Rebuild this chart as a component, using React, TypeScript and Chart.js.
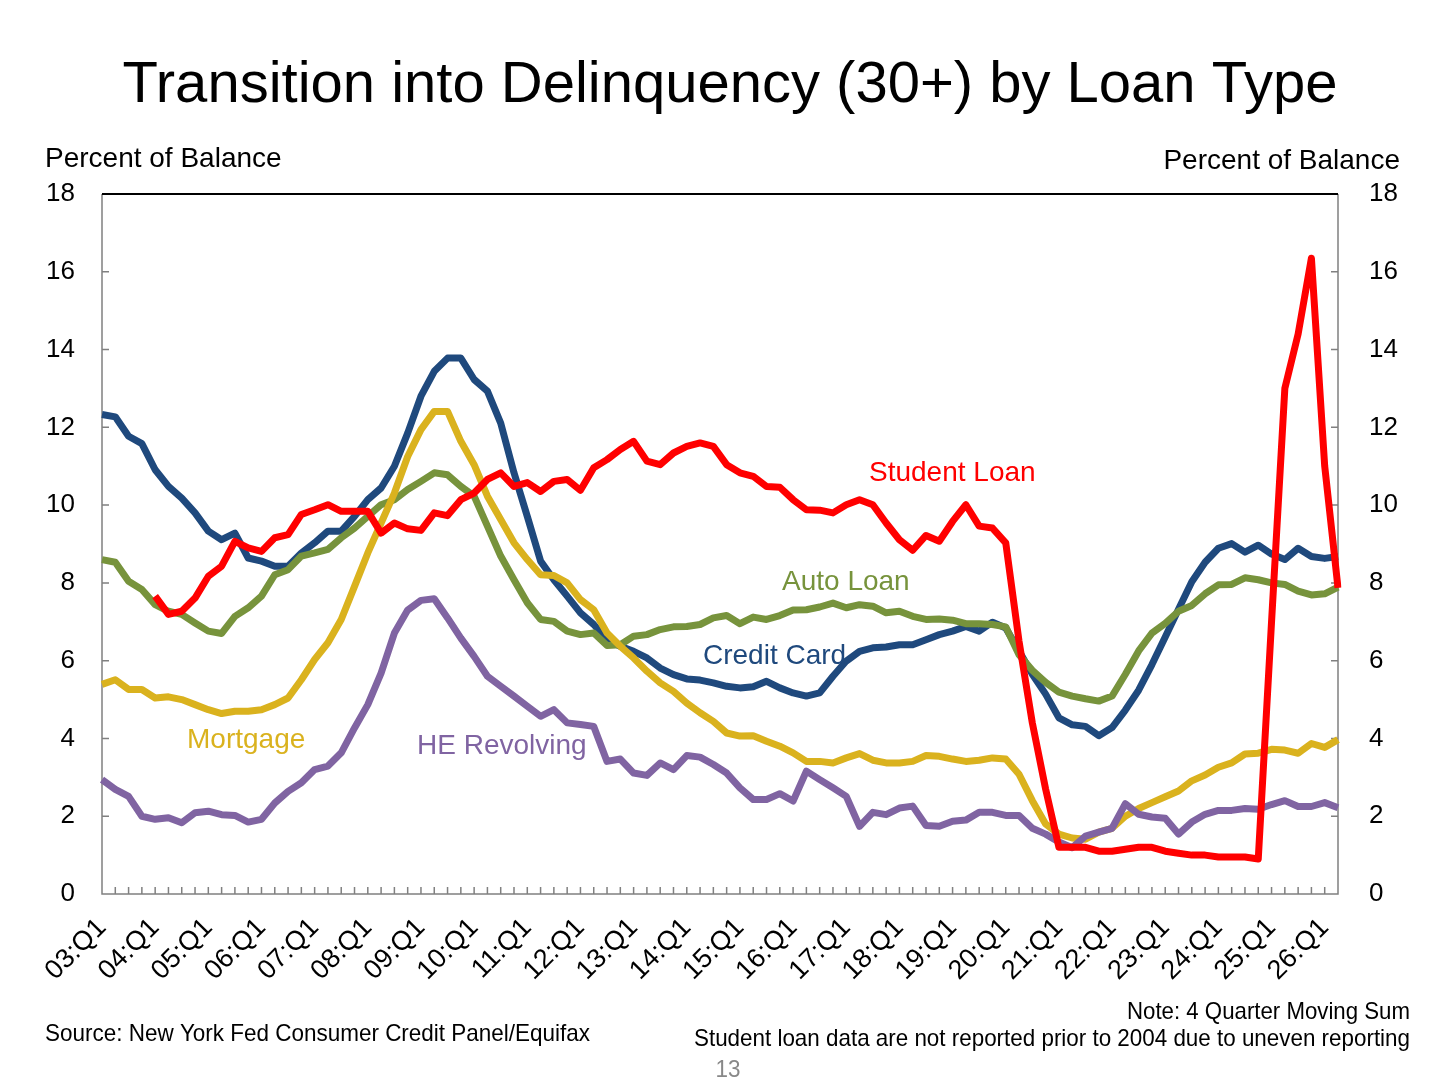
import { useEffect, useRef } from 'react';
import { Chart, registerables } from 'chart.js';

Chart.register(...registerables);

const FONT = '"Liberation Sans", Arial, sans-serif';

// quarters 03:Q1 .. 26:Q2
const quarters: string[] = [];
for (let y = 3; y <= 26; y++) {
  for (let q = 1; q <= 4; q++) quarters.push(`${String(y).padStart(2, '0')}:Q${q}`);
}
quarters.length = 94;

const yTicks = [0, 2, 4, 6, 8, 10, 12, 14, 16, 18];

const creditCard = [
  12.33, 12.27, 11.77, 11.58, 10.91, 10.48, 10.18, 9.8, 9.33, 9.11,
  9.28, 8.64, 8.56, 8.43, 8.43, 8.77, 9.03, 9.33, 9.33, 9.71,
  10.14, 10.44, 11.0, 11.85, 12.8, 13.44, 13.78, 13.78, 13.23, 12.93,
  12.11, 10.83, 9.71, 8.56, 8.08, 7.66, 7.23, 6.93, 6.54, 6.37,
  6.24, 6.07, 5.81, 5.64, 5.53, 5.5, 5.43, 5.34, 5.3, 5.33,
  5.47, 5.3, 5.17, 5.09, 5.17, 5.6, 5.99, 6.24, 6.33, 6.35,
  6.41, 6.41, 6.54, 6.67, 6.76, 6.88, 6.76, 6.99, 6.84, 6.25,
  5.65, 5.14, 4.53, 4.35, 4.31, 4.07, 4.28, 4.73, 5.24, 5.9,
  6.61, 7.32, 8.03, 8.53, 8.89, 9.01, 8.79, 8.97, 8.74, 8.6,
  8.89, 8.68, 8.63, 8.68,
];

const autoLoan = [
  8.6, 8.53, 8.04, 7.83, 7.44, 7.27, 7.19, 6.97, 6.76, 6.7,
  7.14, 7.36, 7.66, 8.21, 8.34, 8.69, 8.77, 8.86, 9.16, 9.41,
  9.71, 10.01, 10.14, 10.4, 10.61, 10.83, 10.78, 10.48, 10.23, 9.46,
  8.69, 8.08, 7.49, 7.06, 7.01, 6.76, 6.67, 6.71, 6.39, 6.41,
  6.63, 6.67, 6.8, 6.87, 6.88, 6.93, 7.1, 7.16, 6.95, 7.12,
  7.06, 7.16, 7.3, 7.31, 7.38, 7.48, 7.36, 7.44, 7.4, 7.23,
  7.27, 7.14, 7.06, 7.07, 7.04, 6.95, 6.95, 6.93, 6.87, 6.15,
  5.75, 5.44, 5.19, 5.09, 5.02, 4.96, 5.09, 5.65, 6.25, 6.71,
  6.96, 7.27, 7.42, 7.72, 7.95, 7.96, 8.13, 8.08, 8.0, 7.96,
  7.79, 7.69, 7.72, 7.89,
];

const studentLoan = [
  null, null, null, null, 7.66, 7.19, 7.27, 7.61, 8.17, 8.43,
  9.07, 8.9, 8.81, 9.16, 9.24, 9.76, 9.88, 10.01, 9.84, 9.84,
  9.84, 9.28, 9.54, 9.39, 9.35, 9.8, 9.73, 10.14, 10.31, 10.66,
  10.83, 10.48, 10.58, 10.35, 10.61, 10.66, 10.38, 10.96, 11.17, 11.43,
  11.64, 11.13, 11.04, 11.34, 11.51, 11.6, 11.51, 11.04, 10.83, 10.74,
  10.48, 10.46, 10.14, 9.88, 9.87, 9.8, 10.01, 10.14, 10.01, 9.54,
  9.11, 8.84, 9.22, 9.07, 9.58, 10.01, 9.46, 9.41, 9.03, 6.5,
  4.4, 2.7, 1.2, 1.2, 1.2, 1.1, 1.1, 1.15, 1.2, 1.2,
  1.1, 1.05, 1.0, 1.0, 0.95, 0.95, 0.95, 0.9, 7.0, 13.0,
  14.4, 16.35, 11.0, 7.87,
];

const mortgage = [
  5.39, 5.51, 5.26, 5.26, 5.04, 5.07, 5.0, 4.87, 4.74, 4.64,
  4.7, 4.7, 4.74, 4.87, 5.04, 5.51, 6.03, 6.46, 7.06, 7.91,
  8.77, 9.54, 10.31, 11.25, 11.94, 12.41, 12.41, 11.64, 11.04, 10.23,
  9.63, 9.03, 8.6, 8.21, 8.19, 8.0, 7.57, 7.31, 6.71, 6.37,
  6.07, 5.73, 5.43, 5.21, 4.91, 4.66, 4.44, 4.14, 4.06, 4.07,
  3.93, 3.8, 3.63, 3.41, 3.41, 3.37, 3.5, 3.61, 3.44, 3.37,
  3.37, 3.41, 3.56, 3.54, 3.47, 3.41, 3.44, 3.5, 3.47, 3.08,
  2.4, 1.8, 1.54, 1.44, 1.41, 1.59, 1.69, 2.0, 2.2, 2.35,
  2.5, 2.65, 2.91, 3.06, 3.26, 3.37, 3.6, 3.62, 3.72, 3.7,
  3.62, 3.87, 3.77, 3.97,
];

const heRevolving = [
  2.94, 2.69, 2.51, 2.0, 1.92, 1.96, 1.83, 2.09, 2.13, 2.04,
  2.02, 1.85, 1.92, 2.34, 2.64, 2.86, 3.2, 3.29, 3.63, 4.27,
  4.87, 5.68, 6.71, 7.3, 7.55, 7.59, 7.1, 6.58, 6.11, 5.6,
  5.34, 5.09, 4.83, 4.57, 4.74, 4.4, 4.36, 4.31, 3.41, 3.47,
  3.11, 3.05, 3.37, 3.2, 3.56, 3.52, 3.33, 3.11, 2.73, 2.43,
  2.43, 2.58, 2.39, 3.16, 2.94, 2.73, 2.51, 1.74, 2.1, 2.04,
  2.21, 2.26, 1.76, 1.74, 1.87, 1.9, 2.1, 2.1, 2.02, 2.02,
  1.69, 1.54, 1.34, 1.19, 1.49, 1.59, 1.69, 2.32, 2.05, 1.98,
  1.95, 1.54, 1.85, 2.05, 2.15, 2.15, 2.2, 2.18, 2.3, 2.4,
  2.25, 2.25, 2.35, 2.22,
];

const RED = '#FF0000';
const NAVY = '#1F497D';
const GREEN = '#77933C';
const GOLD = '#DAB21E';
const PURPLE = '#8064A2';

function text(
  ctx: CanvasRenderingContext2D,
  s: string,
  x: number,
  y: number,
  size: number,
  color: string,
  align: CanvasTextAlign = 'left',
  fitWidth?: number,
) {
  ctx.save();
  ctx.font = `${size}px ${FONT}`;
  ctx.fillStyle = color;
  ctx.textBaseline = 'alphabetic';
  ctx.textAlign = align;
  if (fitWidth) {
    // the footnotes are set in a condensed face
    const w = ctx.measureText(s).width;
    ctx.translate(x, y);
    ctx.scale(fitWidth / w, 1);
    ctx.fillText(s, 0, 0);
  } else {
    ctx.fillText(s, x, y);
  }
  ctx.restore();
}

const framePlugin = {
  id: 'frame',
  beforeDatasetsDraw(chart: any) {
    const { ctx, chartArea: a, scales } = chart;
    ctx.save();
    ctx.strokeStyle = '#808080';
    ctx.lineWidth = 1.5;
    ctx.beginPath();
    ctx.moveTo(a.left, a.top);
    ctx.lineTo(a.left, a.bottom);
    ctx.lineTo(a.right, a.bottom);
    ctx.lineTo(a.right, a.top);
    for (const v of yTicks) {
      const py = scales.y.getPixelForValue(v);
      ctx.moveTo(a.left, py);
      ctx.lineTo(a.left + 7, py);
      ctx.moveTo(a.right, py);
      ctx.lineTo(a.right - 7, py);
    }
    quarters.forEach((_, i) => {
      const px = scales.x.getPixelForValue(i);
      ctx.moveTo(px, a.bottom);
      ctx.lineTo(px, a.bottom - 7);
    });
    ctx.stroke();
    ctx.strokeStyle = '#000';
    ctx.lineWidth = 2;
    ctx.beginPath();
    ctx.moveTo(a.left, a.top);
    ctx.lineTo(a.right, a.top);
    ctx.stroke();
    ctx.restore();
  },
  afterDatasetsDraw(chart: any) {
    const ctx = chart.ctx as CanvasRenderingContext2D;
    text(ctx, 'Transition into Delinquency (30+) by Loan Type', 730, 102, 58, '#000', 'center');
    text(ctx, 'Percent of Balance', 45, 167, 28, '#000');
    text(ctx, 'Percent of Balance', 1400, 169, 28, '#000', 'right');

    text(ctx, 'Student Loan', 869, 481, 28, RED);
    text(ctx, 'Auto Loan', 782, 590, 28, GREEN);
    text(ctx, 'Credit Card', 703, 664, 28, NAVY);
    text(ctx, 'Mortgage', 187, 748, 28, GOLD);
    text(ctx, 'HE Revolving', 417, 754, 28, PURPLE);

    text(ctx, 'Source: New York Fed Consumer Credit Panel/Equifax', 45, 1041, 24, '#000', 'left', 545);
    text(ctx, 'Note: 4 Quarter Moving Sum', 1410, 1019, 24, '#000', 'right', 283);
    text(
      ctx,
      'Student loan data are not reported prior to 2004 due to uneven reporting',
      1410, 1046, 24, '#000', 'right', 716,
    );
    text(ctx, '13', 728, 1077, 24, '#888888', 'center', 25);
  },
};

export default function App() {
  const chartRef = useRef<HTMLCanvasElement>(null);
  const chartInstanceRef = useRef<Chart | null>(null);

  useEffect(() => {
    if (!chartRef.current) return;
    const ctx = chartRef.current.getContext('2d');
    if (!ctx) return;
    if (chartInstanceRef.current) chartInstanceRef.current.destroy();

    const line = (label: string, data: (number | null)[], color: string) => ({
      label,
      data,
      borderColor: color,
      backgroundColor: color,
      borderWidth: 7,
      pointRadius: 0,
      tension: 0,
      fill: false,
      borderJoinStyle: 'round' as const,
      borderCapStyle: 'butt' as const,
      yAxisID: 'y',
    });

    const yAxis = (position: 'left' | 'right', padding: number, width: number) => ({
      type: 'linear' as const,
      position,
      min: 0,
      max: 18,
      grid: { display: false, drawTicks: false },
      border: { display: false },
      ticks: {
        stepSize: 2,
        padding,
        color: '#000',
        font: { family: FONT, size: 26 },
      },
      afterFit(scale: any) {
        scale.width = width;
      },
    });

    chartInstanceRef.current = new Chart(ctx, {
      type: 'line',
      data: {
        labels: quarters,
        datasets: [
          line('Student Loan', studentLoan, RED),
          line('HE Revolving', heRevolving, PURPLE),
          line('Mortgage', mortgage, GOLD),
          line('Auto Loan', autoLoan, GREEN),
          line('Credit Card', creditCard, NAVY),
        ],
      },
      options: {
        responsive: false,
        maintainAspectRatio: false,
        animation: false,
        layout: { padding: { top: 194, left: 0, right: 0, bottom: 0 } },
        plugins: {
          legend: { display: false },
          title: { display: false },
          tooltip: { enabled: false },
        },
        scales: {
          x: {
            type: 'category',
            offset: false,
            grid: { display: false, drawTicks: false },
            border: { display: false },
            ticks: {
              autoSkip: false,
              maxRotation: 45,
              minRotation: 45,
              padding: 18,
              color: '#000',
              font: { family: FONT, size: 27 },
              callback: (_v: any, i: number) => (quarters[i].endsWith('Q1') ? quarters[i] : ''),
            },
            afterFit(scale: any) {
              scale.height = 1091 - 894;
            },
          },
          y: yAxis('left', 27, 102),
          y2: yAxis('right', 31, 1456 - 1338),
        },
      },
      plugins: [framePlugin],
    });

    return () => {
      if (chartInstanceRef.current) {
        chartInstanceRef.current.destroy();
        chartInstanceRef.current = null;
      }
    };
  }, []);

  return (
    <div style={{ position: 'absolute', left: 0, top: 0, width: 1456, height: 1091, background: '#fff' }}>
      <canvas ref={chartRef} width={1456} height={1091} style={{ width: 1456, height: 1091 }} />
    </div>
  );
}
